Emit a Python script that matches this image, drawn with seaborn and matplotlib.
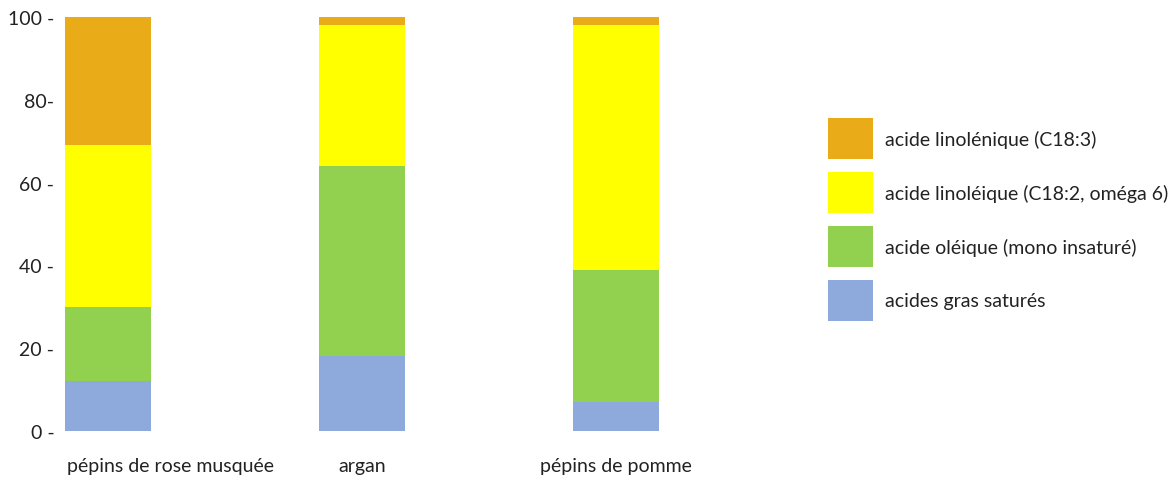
import matplotlib
matplotlib.use("Agg")
import matplotlib.pyplot as plt
import matplotlib.transforms as mtransforms
from matplotlib.patches import Rectangle
import numpy as np
import pandas as pd
import seaborn as sns

# data (percent of fatty acids)
huiles = ["pépins de rose musquée", "argan", "pépins de pomme"]
satures = [12, 18, 7]
oleique = [18, 46, 32]
linoleique = [39, 34, 59]
linolenique = [31, 2, 2]

series_labels = [
    "acide linolénique (C18:3)",
    "acide linoléique (C18:2, oméga 6)",
    "acide oléique (mono insaturé)",
    "acides gras saturés",
]
series_colors = ["#E9AB17", "#FFFF00", "#92D050", "#8EA9DB"]

y_ticks = [0, 20, 40, 60, 80, 100]
y_tick_labels = ["0 -", "20 -", "40 -", "60 -", "80-", "100 -"]

sns.set_theme(style="white")
plt.rcParams["font.family"] = ["Lato", "DejaVu Sans"]

df = pd.DataFrame({
    "huile": huiles,
    "sat": satures,
    "ole": oleique,
    "lin": linoleique,
    "lnn": linolenique,
})
# cumulative heights, drawn from the tallest to the shortest so they stack
df["c4"] = df["sat"] + df["ole"] + df["lin"] + df["lnn"]
df["c3"] = df["sat"] + df["ole"] + df["lin"]
df["c2"] = df["sat"] + df["ole"]
df["c1"] = df["sat"]

W, H = 1175, 481
fig = plt.figure(figsize=(W / 100, H / 100), dpi=100)
ax = fig.add_axes([60 / W, 49 / H, (720 - 60) / W, 414 / H])

for col, color in zip(["c4", "c3", "c2", "c1"], series_colors):
    sns.barplot(data=df, x="huile", y=col, color=color, width=0.34,
                saturation=1, ax=ax, errorbar=None, linewidth=0,
                edgecolor="none")

ax.set_xlim(-0.189, 2.41)
ax.set_ylim(0, 100)
ax.set_xlabel("")
ax.set_ylabel("")
ax.set_yticks(y_ticks)
ax.set_yticklabels(y_tick_labels, fontsize=14, color="#222222")
ax.tick_params(axis="both", length=0)
ax.tick_params(axis="y", pad=4)
ax.tick_params(axis="x", pad=19, labelsize=14, labelcolor="#222222")
for s in ax.spines.values():
    s.set_visible(False)

# first category label sits a bit to the right of its bar
offset = mtransforms.ScaledTranslation(0.63, 0, fig.dpi_scale_trans)
lbl = ax.get_xticklabels()[0]
lbl.set_transform(lbl.get_transform() + offset)

# legend drawn by hand: 45x41 px swatches, one row every 54 px
for i, (label, color) in enumerate(zip(series_labels, series_colors)):
    top = 119 + 54 * i
    fig.add_artist(Rectangle((828 / W, 1 - (top + 41) / H), 45 / W, 41 / H,
                             transform=fig.transFigure, facecolor=color,
                             edgecolor="none"))
    fig.text(885 / W, 1 - (top + 21) / H, label, fontsize=14,
             color="#222222", va="center", ha="left")

fig.savefig("out.png", dpi=100)
